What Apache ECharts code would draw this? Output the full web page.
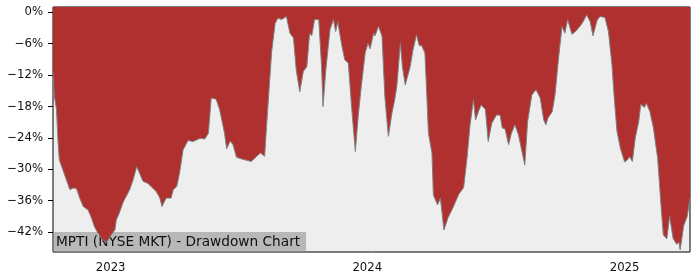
<!DOCTYPE html>
<html>
<head>
<meta charset="utf-8">
<script src="https://cdn.jsdelivr.net/npm/echarts@6/dist/echarts.min.js"></script>
<style>html,body{margin:0;padding:0;background:#fff}#c{width:700px;height:280px}</style>
</head>
<body>
<div id="c"></div>
<script>
var dates = [
'2022-10-11','2022-10-13','2022-10-16','2022-10-18','2022-10-20','2022-10-25','2022-10-30','2022-11-04','2022-11-08','2022-11-13',
'2022-11-15','2022-11-18','2022-11-23','2022-11-30','2022-12-05','2022-12-09','2022-12-14','2022-12-19','2022-12-26','2023-01-02',
'2023-01-07','2023-01-09','2023-01-14','2023-01-19','2023-01-23','2023-01-28','2023-02-02','2023-02-07','2023-02-09','2023-02-11',
'2023-02-16','2023-02-23','2023-03-02','2023-03-07','2023-03-12','2023-03-15','2023-03-21','2023-03-28','2023-03-31','2023-04-05',
'2023-04-09','2023-04-14','2023-04-21','2023-04-28','2023-05-08','2023-05-15','2023-05-20','2023-05-24','2023-05-31','2023-06-05',
'2023-06-12','2023-06-15','2023-06-20','2023-06-24','2023-06-29','2023-07-08','2023-07-20','2023-07-27','2023-08-02','2023-08-08',
'2023-08-11','2023-08-18','2023-08-23','2023-08-27','2023-09-01','2023-09-08','2023-09-13','2023-09-18','2023-09-22','2023-09-27',
'2023-10-02','2023-10-07','2023-10-11','2023-10-14','2023-10-18','2023-10-24','2023-10-28','2023-10-30','2023-11-03','2023-11-09',
'2023-11-14','2023-11-17','2023-11-20','2023-11-26','2023-11-30','2023-12-05','2023-12-10','2023-12-15','2023-12-19','2023-12-24',
'2023-12-29','2024-01-02','2024-01-05','2024-01-10','2024-01-12','2024-01-17','2024-01-22','2024-01-26','2024-01-31','2024-02-05',
'2024-02-09','2024-02-12','2024-02-17','2024-02-20','2024-02-24','2024-02-26','2024-03-02','2024-03-06','2024-03-11','2024-03-15',
'2024-03-18','2024-03-23','2024-03-28','2024-04-02','2024-04-04','2024-04-10','2024-04-14','2024-04-19','2024-04-25','2024-05-02',
'2024-05-10','2024-05-17','2024-05-22','2024-05-26','2024-05-31','2024-06-03','2024-06-07','2024-06-11','2024-06-17','2024-06-21',
'2024-06-26','2024-07-03','2024-07-08','2024-07-11','2024-07-15','2024-07-20','2024-07-24','2024-07-29','2024-08-03','2024-08-08',
'2024-08-12','2024-08-16','2024-08-22','2024-08-28','2024-09-03','2024-09-08','2024-09-11','2024-09-14','2024-09-20','2024-09-24',
'2024-09-29','2024-10-04','2024-10-08','2024-10-12','2024-10-18','2024-10-23','2024-10-30','2024-11-03','2024-11-08','2024-11-13',
'2024-11-17','2024-11-23','2024-11-27','2024-12-04','2024-12-09','2024-12-14','2024-12-17','2024-12-21','2024-12-26','2025-01-01',
'2025-01-05','2025-01-08','2025-01-12','2025-01-16','2025-01-21','2025-01-24','2025-01-29','2025-02-01','2025-02-06','2025-02-11',
'2025-02-17','2025-02-21','2025-02-25','2025-03-02','2025-03-06','2025-03-11','2025-03-16','2025-03-19','2025-03-21','2025-03-26',
'2025-03-31','2025-04-04'
];
var drawdown = [
-11.6,-16.1,-18.6,-24.4,-28.2,-30.1,-32.0,-33.9,-33.6,-33.6,
-34.3,-35.5,-37.1,-37.8,-39.4,-41.0,-42.2,-43.2,-44.0,-42.5,
-41.6,-39.7,-38.1,-36.2,-35.2,-33.9,-32.0,-29.5,-29.2,-30.7,
-32.3,-32.7,-33.6,-34.3,-35.5,-37.1,-35.5,-35.5,-33.9,-33.3,
-30.7,-26.3,-24.5,-24.7,-24.1,-24.2,-23.1,-16.4,-16.6,-18.6,
-23.1,-26.1,-24.6,-25.3,-27.7,-28.1,-28.5,-27.6,-26.9,-27.5,
-21.2,-7.5,-2.1,-1.1,-1.4,-0.8,-4.0,-4.9,-11.1,-15.2,
-11.3,-10.4,-4.0,-4.5,-1.4,-1.4,-10.4,-18.0,-11.0,-3.3,
-1.4,-3.7,-1.8,-6.5,-9.1,-9.7,-18.6,-26.6,-19.9,-13.5,
-7.8,-5.9,-7.0,-4.0,-4.5,-2.7,-4.6,-16.1,-23.7,-19.3,
-16.7,-14.2,-5.9,-10.4,-13.9,-14.2,-10.4,-7.2,-4.3,-6.4,
-6.3,-7.8,-23.1,-26.9,-34.9,-36.8,-35.5,-41.6,-39.2,-37.3,
-34.8,-33.5,-27.7,-21.7,-16.7,-20.6,-19.0,-17.7,-18.6,-24.7,
-21.2,-19.6,-19.7,-22.1,-22.3,-25.3,-23.1,-21.5,-23.4,-26.6,
-29.2,-20.9,-15.8,-14.8,-16.4,-20.6,-21.5,-20.2,-19.0,-15.8,
-8.8,-2.7,-4.0,-1.4,-4.2,-3.7,-2.6,-1.8,-0.5,-1.8,
-4.5,-1.5,-0.8,-1.0,-3.7,-10.0,-15.8,-22.6,-26.0,-28.6,
-28.2,-27.6,-28.5,-24.1,-20.9,-17.6,-18.2,-17.4,-19.0,-22.1,
-27.9,-35.5,-42.5,-43.3,-39.0,-43.2,-44.3,-43.9,-45.4,-40.8,
-39.0,-35.5
];
var yTicks = [-42, -36, -30, -24, -18, -12, -6, 0];
var xTickLabels = ['2023-01-01', '2024-01-01', '2025-01-01'];
var titleText = 'MPTI (NYSE MKT) - Drawdown Chart';

function ts(s) { var p = s.split('-'); return Date.UTC(+p[0], +p[1] - 1, +p[2]); }
var seriesData = dates.map(function (d, i) { return [ts(d), drawdown[i]]; });
var xTickValues = xTickLabels.map(ts);

var chart = echarts.init(document.getElementById('c'), null, {renderer: 'canvas'});
chart.setOption({
  animation: false,
  backgroundColor: '#ffffff',
  grid: {
    left: 53, right: 10, top: 7, bottom: 28,
    show: true, backgroundColor: '#EEEEEE', borderColor: '#000000', borderWidth: 1
  },
  xAxis: {
    type: 'value',
    min: ts('2022-10-11'),
    max: ts('2025-04-04'),
    axisLine: {show: false},
    splitLine: {show: false},
    axisTick: {show: true, length: 5, inside: false, customValues: xTickValues, lineStyle: {color: '#000', width: 1}},
    axisLabel: {
      customValues: xTickValues,
      margin: 10,
      fontFamily: 'DejaVu Sans', fontSize: 11.7, color: '#111',
      formatter: function (v) { return String(new Date(v).getUTCFullYear()); }
    }
  },
  yAxis: {
    type: 'value',
    min: -45.8, max: 1.0,
    axisLine: {show: false},
    splitLine: {show: false},
    axisTick: {show: true, length: 5, inside: false, customValues: yTicks, lineStyle: {color: '#000', width: 1}},
    axisLabel: {
      customValues: yTicks,
      margin: 10,
      fontFamily: 'DejaVu Sans', fontSize: 11.7, color: '#111',
      formatter: function (v) { return (v < 0 ? '\u2212' + Math.abs(v) : String(v)) + '%'; }
    }
  },
  series: [{
    type: 'line',
    data: seriesData,
    showSymbol: false,
    symbol: 'none',
    lineStyle: {color: '#808080', width: 1},
    areaStyle: {color: '#B03030', opacity: 1, origin: 'end'}
  }],
  graphic: [{
    type: 'group', left: 53, top: 232, z: 100,
    children: [
      {type: 'rect', shape: {x: 0, y: 0, width: 253, height: 20}, style: {fill: 'rgba(140,140,140,0.55)'}},
      {type: 'text', x: 3, y: 10, style: {text: titleText, fontFamily: 'DejaVu Sans', fontSize: 13.7, fill: '#111', verticalAlign: 'middle', textAlign: 'left'}}
    ]
  }]
});
</script>
</body>
</html>
